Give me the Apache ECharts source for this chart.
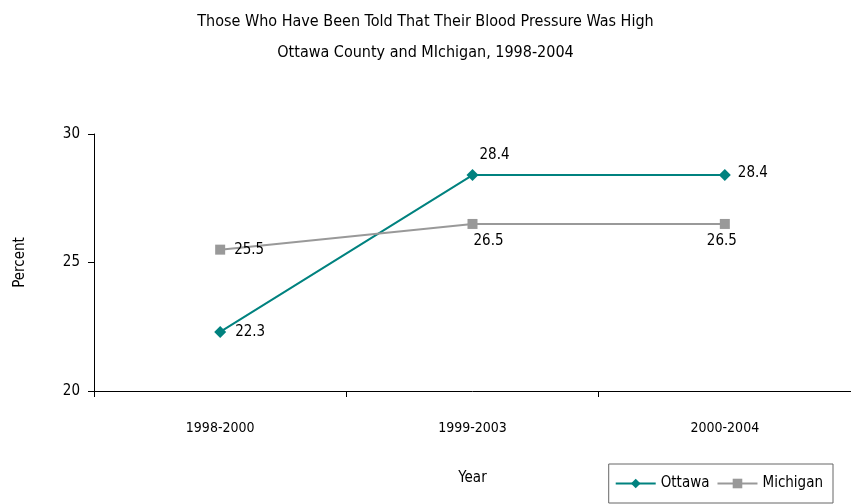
<!DOCTYPE html>
<html><head><meta charset="utf-8">
<script src="https://cdn.jsdelivr.net/npm/echarts@6/dist/echarts.min.js"></script>
<style>html,body{margin:0;padding:0;background:#fff}#c{width:851px;height:504px}</style>
</head><body><div id="c"></div>
<script>
var categories = ['1998-2000', '1999-2003', '2000-2004'];
var ottawa = [22.3, 28.4, 28.4];
var michigan = [25.5, 26.5, 26.5];
var yTicks = [20, 25, 30];

var FONT = '"Liberation Sans Narrow", "DejaVu Sans Condensed", "Arial Narrow", sans-serif';
var chart = echarts.init(document.getElementById('c'), null, {renderer: 'canvas'});
var ottawaPos = [{position: 'right', offset: [4, 0]}, {position: 'top', offset: [22, -2]}, {position: 'right', offset: [2, -2]}];
var michPos = [{position: 'right', offset: [4, 0]}, {position: 'bottom', offset: [16, 0]}, {position: 'bottom', offset: [-3, 0]}];

chart.setOption({
  animation: false,
  textStyle: {fontFamily: FONT},
  title: [
    {text: 'Those Who Have Been Told That Their Blood Pressure Was High', left: 'center', top: 9,
     textStyle: {fontFamily: FONT, fontSize: 16, fontWeight: 'normal', color: '#000'}},
    {text: 'Ottawa County and MIchigan, 1998-2004', left: 'center', top: 40,
     textStyle: {fontFamily: FONT, fontSize: 16, fontWeight: 'normal', color: '#000'}}
  ],
  legend: {
    right: 18, bottom: 1, itemGap: 7, itemWidth: 40, itemHeight: 12,
    padding: [12, 10, 12, 6],
    borderColor: '#666', borderWidth: 1,
    textStyle: {fontFamily: FONT, fontSize: 15, color: '#000'},
    data: ['Ottawa', 'Michigan']
  },
  grid: {left: 94, top: 134, width: 759, height: 257},
  xAxis: {
    type: 'category', data: categories, boundaryGap: true,
    name: 'Year', nameLocation: 'middle', nameGap: 80,
    nameTextStyle: {fontFamily: FONT, fontSize: 15, color: '#000'},
    axisLine: {lineStyle: {color: '#000', width: 1}},
    axisTick: {show: true, length: 6, lineStyle: {color: '#000'}},
    axisLabel: {fontFamily: FONT, fontSize: 14, color: '#000', margin: 30}
  },
  yAxis: {
    type: 'value', min: 20, max: 30, interval: 5,
    name: 'Percent', nameLocation: 'middle', nameGap: 66,
    nameTextStyle: {fontFamily: FONT, fontSize: 15, color: '#000'},
    axisLine: {show: true, lineStyle: {color: '#000', width: 1}},
    axisTick: {show: true, length: 6, lineStyle: {color: '#000'}},
    splitLine: {show: false},
    axisLabel: {fontFamily: FONT, fontSize: 15, color: '#000', margin: 14,
      formatter: function (v) { return yTicks.indexOf(v) >= 0 ? String(v) : ''; }}
  },
  series: [
    {name: 'Ottawa', type: 'line', symbol: 'diamond', symbolSize: 12,
     itemStyle: {color: '#00827f'}, lineStyle: {color: '#00827f', width: 2},
     data: ottawa.map(function (v, i) { return {value: v, label: ottawaPos[i]}; }),
     label: {show: true, fontFamily: FONT, fontSize: 15, color: '#000'}},
    {name: 'Michigan', type: 'line', symbol: 'rect', symbolSize: 10,
     itemStyle: {color: '#999999'}, lineStyle: {color: '#999999', width: 2},
     data: michigan.map(function (v, i) { return {value: v, label: michPos[i]}; }),
     label: {show: true, fontFamily: FONT, fontSize: 15, color: '#000'}}
  ]
});
</script></body></html>
